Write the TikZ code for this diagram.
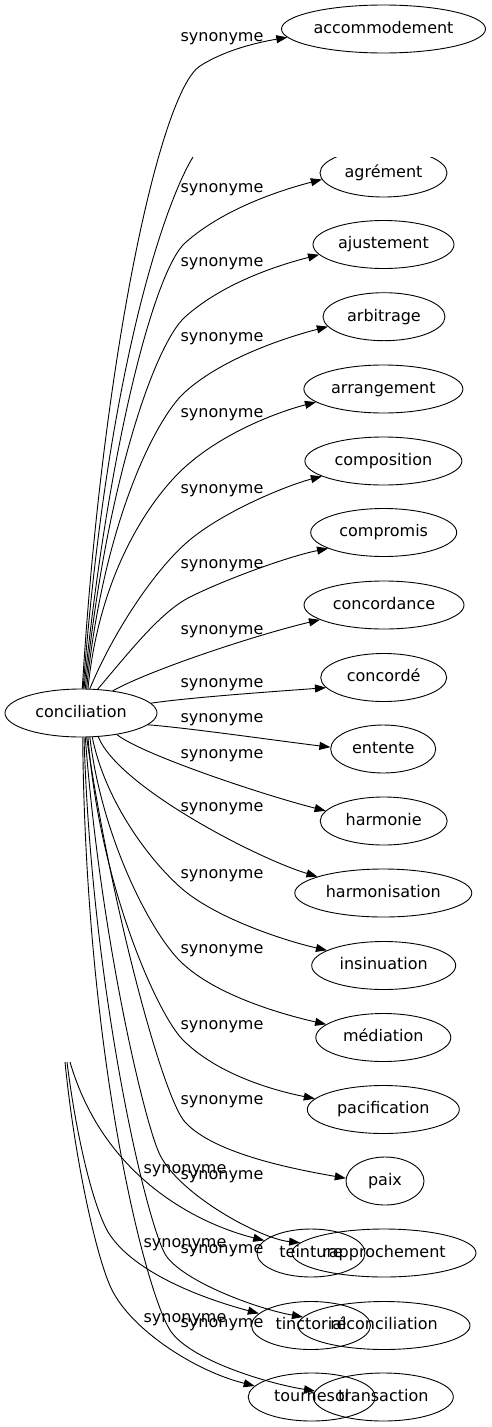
\documentclass[tikz,border=0pt]{standalone}
\usepackage{fontspec}
\setmainfont{DejaVu Sans}
\usetikzlibrary{arrows.meta,shapes.geometric}
\begin{document}
\begin{tikzpicture}[x=1pt,y=-1pt,
  word/.style={ellipse, draw, line width=0.9pt, inner sep=0pt, minimum height=48pt,
    text height=12pt, text depth=3.2pt, font=\fontsize{16}{19}\selectfont},
  lab/.style={inner sep=0pt, text height=12pt, text depth=3.2pt, font=\fontsize{16}{19}\selectfont},
  synline/.style={line width=0.9pt, -{Triangle[length=11pt,width=8pt]}},
  cutline/.style={line width=0.9pt}]
\useasboundingbox (0,0) rectangle (492,1427);

% nodes
\node[word, minimum width=152pt] (conc) at (81,713) {conciliation};
\node[word, minimum width=204pt] (acc) at (383.5,29) {accommodement};
\begin{scope}
  \clip (0,157) rectangle (492,1427);
  \node[word, minimum width=127pt] (agr) at (383.5,173) {agrément};
\end{scope}
\node[word, minimum width=141pt] (ajust) at (383.5,244.5) {ajustement};
\node[word, minimum width=122pt] (arb) at (384,316.7) {arbitrage};
\node[word, minimum width=159pt] (arr) at (383.4,389) {arrangement};
\node[word, minimum width=157pt] (comp) at (383.4,461) {composition};
\node[word, minimum width=146pt] (compr) at (383.7,532.5) {compromis};
\node[word, minimum width=160pt] (concordance) at (384,605) {concordance};
\node[word, minimum width=126pt] (concorde) at (383.7,677.5) {concordé};
\node[word, minimum width=105pt] (entente) at (383.2,749) {entente};
\node[word, minimum width=127pt] (harmonie) at (383.7,821) {harmonie};
\node[word, minimum width=177pt] (harmonisation) at (383.3,893) {harmonisation};
\node[word, minimum width=144pt] (insinuation) at (383.7,965.5) {insinuation};
\node[word, minimum width=135pt] (mediation) at (383.3,1037.5) {médiation};
\node[word, minimum width=152pt] (pacification) at (383.3,1109.5) {pacification};
\node[word, minimum width=78pt] (paix) at (385,1181) {paix};
\node[word, minimum width=184pt] (rapprochement) at (384,1253) {rapprochement};
\node[word, minimum width=172pt] (reconciliation) at (384,1325.5) {réconciliation};
\node[word, minimum width=140pt] (transaction) at (383.3,1397) {transaction};
\node[word, minimum width=108pt] (teinture) at (311,1253) {teinture};
\node[word, minimum width=119pt] (tinctorial) at (311,1325.5) {tinctorial};
\node[word, minimum width=127pt] (tournesol) at (311.7,1397) {tournesol};

% free ends of cut connectors
\coordinate (stubtop) at (193,157);
\coordinate (stubA) at (70,1062);
\coordinate (stubB) at (67,1062);
\coordinate (stubC) at (65,1062);

% labels
\foreach \y [count=\i] in {37,188,262,337,413,489,564,630,683,718,754,807,874,949,1025,1100,1175,1249,1323}
  \node[lab] (lab\i) at (222,\y) {synonyme};
\foreach \y [count=\i] in {1169,1243,1318}
  \node[lab] (slab\i) at (185,\y) {synonyme};

% upward connectors
\draw[synline] (conc.87) .. controls +(20,-330) and +(-40,26) .. (200,66)
  .. controls +(25,-16) and +(-30,5) .. (acc.185);
\draw[cutline] (conc.85) .. controls +(25,-330) and +(-25,40) .. (stubtop);
\draw[synline] (conc.83) .. controls +(24.5,-245) and +(-30,27) .. (185,243)
  .. controls +(40,-36) and +(-35,9) .. (agr.186);
\draw[synline] (conc.80) .. controls +(20.5,-205) and +(-30,27) .. (185,317)
  .. controls +(40,-36) and +(-35,9) .. (ajust.189);
\draw[synline] (conc.77) .. controls +(16,-163) and +(-30,27) .. (185,392)
  .. controls +(40,-36) and +(-35,9) .. (arb.190);
\draw[synline] (conc.74) .. controls +(12,-122) and +(-30,27) .. (185,467)
  .. controls +(40,-36) and +(-35,9) .. (arr.191);
\draw[synline] (conc.70) .. controls +(25,-60) and +(-30,27) .. (185,544)
  .. controls +(35,-31.5) and +(-35,9) .. (comp.194);
\draw[synline] (conc.55) .. controls +(30,-35) and +(-30,15) .. (190,597)
  .. controls +(35,-17.5) and +(-40,8) .. (compr.196);
\draw[synline] (conc.35) .. controls +(40,-22) and +(-60,14) .. (concordance.193);
\draw[synline] (conc.8) .. controls +(40,-6) and +(-40,3) .. (concorde.190);

% downward connectors
\draw[synline] (conc.-10) .. controls +(40,3) and +(-50,-6) .. (entente.178);
\draw[synline] (conc.-31) .. controls +(25,20) and +(-60,-15) .. (harmonie.170);
\draw[synline] (conc.-54) .. controls +(20,50) and +(-60,-18) .. (harmonisation.166);
\draw[synline] (conc.-65) .. controls +(12,60) and +(-35,-31.5) .. (180,887)
  .. controls +(35,31.5) and +(-40,-9) .. (insinuation.165);
\draw[synline] (conc.-70) .. controls +(12,100) and +(-30,-30) .. (180,961)
  .. controls +(35,35) and +(-40,-9) .. (mediation.167);
\draw[synline] (conc.-74) .. controls +(12,150) and +(-25,-25) .. (183,1040)
  .. controls +(35,35) and +(-40,-8) .. (pacification.171);
\draw[synline] (conc.-77) .. controls +(25,170) and +(-22,-24) .. (185,1122)
  .. controls +(30,33) and +(-45,-8) .. (paix.176);
\draw[synline] (conc.-80) .. controls +(15,200) and +(-15,-30) .. (160,1155)
  .. controls +(20,40) and +(-40,-4) .. (rapprochement.173);
\draw[synline] (conc.-83) .. controls +(8,260) and +(-18,-23) .. (167,1257)
  .. controls +(20,26) and +(-45,-8) .. (reconciliation.174);
\draw[synline] (conc.-86) .. controls +(3,320) and +(-25,-40) .. (170,1330)
  .. controls +(18,29) and +(-50,-8) .. (transaction.175);

% cut connectors at the bottom
\draw[synline] (stubA) .. controls +(35,120) and +(-60,-15) .. (teinture.165);
\draw[synline] (stubB) .. controls +(10,80) and +(-15,-22) .. (110,1235)
  .. controls +(25,37) and +(-60,-16) .. (tinctorial.167);
\draw[synline] (stubC) .. controls +(10,100) and +(-15,-30) .. (112,1290)
  .. controls +(20,40) and +(-60,-15) .. (tournesol.169);
\end{tikzpicture}
\end{document}
